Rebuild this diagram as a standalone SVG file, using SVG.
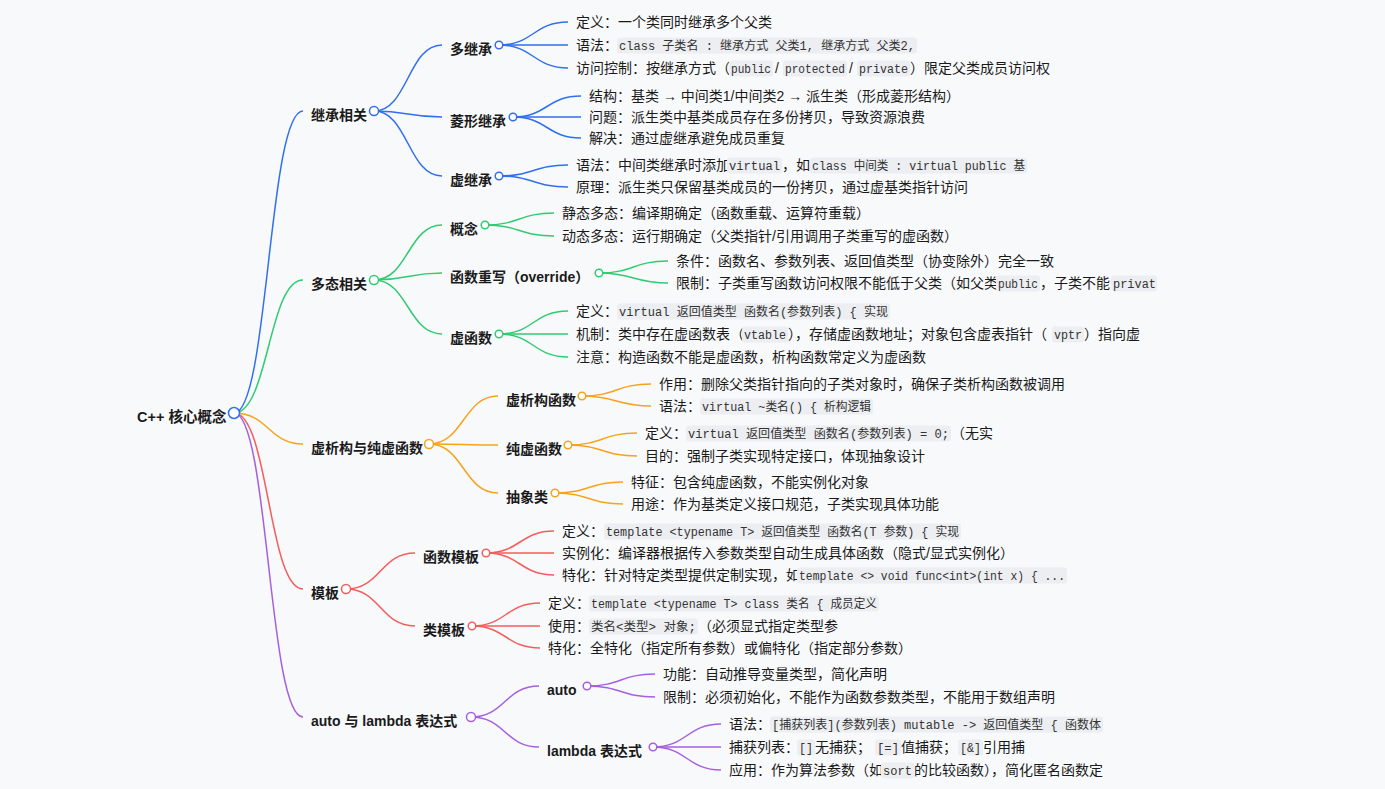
<svg xmlns="http://www.w3.org/2000/svg" width="1385" height="789" viewBox="0 0 1385 789">
<style>
.bg{fill:#f8f9fb}
.lk{fill:none;stroke-width:1.5}
.cb1{stroke:#2f6ff0}.cg{stroke:#2ecc71}.co{stroke:#f7a21b}.cr{stroke:#f55d5d}.cp{stroke:#a55fe0}
.dot{fill:#ffffff;stroke-width:1.5}
.t{font-family:"Liberation Sans","Noto Sans CJK SC",sans-serif;font-size:14px;fill:#1a1a1a}
.h{font-weight:bold}
.c{font-family:"Liberation Mono","Noto Sans CJK SC",monospace;font-size:12px;fill:#333}
.box{fill:#eceef1}
</style>
<rect class="bg" x="0" y="0" width="1385" height="789"/>

<g id="connectors">
  <!-- root to level 1 -->
  <path class="lk cb1" d="M234,413 C268.5,413 268.5,111 303,111"/>
  <path class="lk cg" d="M234,413 C268.5,413 268.5,280 303,280"/>
  <path class="lk co" d="M234,413 C268.5,413 268.5,444 303,444"/>
  <path class="lk cr" d="M234,413 C268.5,413 268.5,589 303,589"/>
  <path class="lk cp" d="M234,413 C268.5,413 268.5,717 303,717"/>
  <!-- level 1 to level 2 -->
  <path class="lk cb1" d="M374,111 C408,111 408,45 442,45"/>
  <path class="lk cb1" d="M374,111 C408,111 408,117 442,117"/>
  <path class="lk cb1" d="M374,111 C408,111 408,176 442,176"/>
  <path class="lk cg" d="M374,280 C408,280 408,225 442,225"/>
  <path class="lk cg" d="M374,280 C408,280 408,273 442,273"/>
  <path class="lk cg" d="M374,280 C408,280 408,334 442,334"/>
  <path class="lk co" d="M429,444 C463.5,444 463.5,396 498,396"/>
  <path class="lk co" d="M429,444 C463.5,444 463.5,445 498,445"/>
  <path class="lk co" d="M429,444 C463.5,444 463.5,493 498,493"/>
  <path class="lk cr" d="M346,589 C380.5,589 380.5,553 415,553"/>
  <path class="lk cr" d="M346,589 C380.5,589 380.5,626 415,626"/>
  <path class="lk cp" d="M471,717 C505,717 505,686 539,686"/>
  <path class="lk cp" d="M471,717 C505,717 505,747 539,747"/>
  <!-- level 2 to leaves -->
  <path class="lk cb1" d="M499,45 C533.5,45 533.5,22 568,22"/>
  <path class="lk cb1" d="M499,45 C533.5,45 533.5,45 568,45"/>
  <path class="lk cb1" d="M499,45 C533.5,45 533.5,68 568,68"/>
  <path class="lk cb1" d="M513,117 C547,117 547,96 581,96"/>
  <path class="lk cb1" d="M513,117 C547,117 547,117 581,117"/>
  <path class="lk cb1" d="M513,117 C547,117 547,138 581,138"/>
  <path class="lk cb1" d="M499,176 C533.5,176 533.5,165 568,165"/>
  <path class="lk cb1" d="M499,176 C533.5,176 533.5,187 568,187"/>
  <path class="lk cg" d="M485,225 C519.5,225 519.5,213 554,213"/>
  <path class="lk cg" d="M485,225 C519.5,225 519.5,236 554,236"/>
  <path class="lk cg" d="M599,273 C633.5,273 633.5,261 668,261"/>
  <path class="lk cg" d="M599,273 C633.5,273 633.5,283 668,283"/>
  <path class="lk cg" d="M499,334 C533.5,334 533.5,311 568,311"/>
  <path class="lk cg" d="M499,334 C533.5,334 533.5,334 568,334"/>
  <path class="lk cg" d="M499,334 C533.5,334 533.5,357 568,357"/>
  <path class="lk co" d="M582,396 C616.5,396 616.5,384 651,384"/>
  <path class="lk co" d="M582,396 C616.5,396 616.5,406 651,406"/>
  <path class="lk co" d="M568,445 C602.5,445 602.5,433 637,433"/>
  <path class="lk co" d="M568,445 C602.5,445 602.5,456 637,456"/>
  <path class="lk co" d="M555,493 C589,493 589,482 623,482"/>
  <path class="lk co" d="M555,493 C589,493 589,504 623,504"/>
  <path class="lk cr" d="M486,553 C520,553 520,531 554,531"/>
  <path class="lk cr" d="M486,553 C520,553 520,553 554,553"/>
  <path class="lk cr" d="M486,553 C520,553 520,575 554,575"/>
  <path class="lk cr" d="M472,626 C506,626 506,603 540,603"/>
  <path class="lk cr" d="M472,626 C506,626 506,626 540,626"/>
  <path class="lk cr" d="M472,626 C506,626 506,648 540,648"/>
  <path class="lk cp" d="M587,686 C621,686 621,674 655,674"/>
  <path class="lk cp" d="M587,686 C621,686 621,697 655,697"/>
  <path class="lk cp" d="M653,747 C687,747 687,724 721,724"/>
  <path class="lk cp" d="M653,747 C687,747 687,747 721,747"/>
  <path class="lk cp" d="M653,747 C687,747 687,770 721,770"/>
</g>

<!-- root -->
<g id="n-root">
  <text class="t h" x="137" y="422" style="font-size:14.5px">C++ 核心概念</text>
  <circle class="dot cb1" cx="234" cy="413" r="5.5"/>
</g>

<!-- ===== Branch: 继承相关 ===== -->
<g id="n-inherit">
  <text class="t h" x="311" y="120">继承相关</text>
  <circle class="dot cb1" cx="374" cy="111" r="4.5"/>
</g>
<g id="n-multi">
  <text class="t h" x="450" y="54">多继承</text>
  <circle class="dot cb1" cx="499" cy="45" r="3.8"/>
</g>
<g id="n-multi-def"><text class="t" x="576" y="27">定义：一个类同时继承多个父类</text></g>
<g id="n-multi-syn">
  <text class="t" x="576" y="50">语法：</text>
  <rect class="box" x="617" y="37.5" width="300" height="16" rx="3"/>
  <text class="c" x="619" y="49.5" textLength="296" lengthAdjust="spacingAndGlyphs">class 子类名 : 继承方式 父类1, 继承方式 父类2,</text>
</g>
<g id="n-multi-acc">
  <text class="t" x="576" y="73">访问控制：按继承方式（</text>
  <rect class="box" x="729" y="60.5" width="44" height="16" rx="3"/>
  <text class="c" x="731" y="72.5" textLength="40" lengthAdjust="spacingAndGlyphs">public</text>
  <text class="t" x="775" y="73">/</text>
  <rect class="box" x="783" y="60.5" width="64" height="16" rx="3"/>
  <text class="c" x="785" y="72.5" textLength="60" lengthAdjust="spacingAndGlyphs">protected</text>
  <text class="t" x="849" y="73">/</text>
  <rect class="box" x="857" y="60.5" width="53" height="16" rx="3"/>
  <text class="c" x="859" y="72.5" textLength="49" lengthAdjust="spacingAndGlyphs">private</text>
  <text class="t" x="910" y="73">）限定父类成员访问权</text>
</g>

<g id="n-diamond">
  <text class="t h" x="450" y="126">菱形继承</text>
  <circle class="dot cb1" cx="513" cy="117" r="3.8"/>
</g>
<g id="n-diamond-s"><text class="t" x="589" y="101">结构：基类 → 中间类1/中间类2 → 派生类（形成菱形结构）</text></g>
<g id="n-diamond-p"><text class="t" x="589" y="122">问题：派生类中基类成员存在多份拷贝，导致资源浪费</text></g>
<g id="n-diamond-r"><text class="t" x="589" y="143">解决：通过虚继承避免成员重复</text></g>

<g id="n-vinherit">
  <text class="t h" x="450" y="185">虚继承</text>
  <circle class="dot cb1" cx="499" cy="176" r="3.8"/>
</g>
<g id="n-vinherit-syn">
  <text class="t" x="576" y="170">语法：中间类继承时添加</text>
  <rect class="box" x="727" y="157.5" width="55" height="16" rx="3"/>
  <text class="c" x="729" y="169.5" textLength="51" lengthAdjust="spacingAndGlyphs">virtual</text>
  <text class="t" x="782" y="170">，如</text>
  <rect class="box" x="810" y="157.5" width="217" height="16" rx="3"/>
  <text class="c" x="812" y="169.5" textLength="213" lengthAdjust="spacingAndGlyphs">class 中间类 : virtual public 基</text>
</g>
<g id="n-vinherit-pri"><text class="t" x="576" y="192">原理：派生类只保留基类成员的一份拷贝，通过虚基类指针访问</text></g>

<!-- ===== Branch: 多态相关 ===== -->
<g id="n-poly">
  <text class="t h" x="311" y="289">多态相关</text>
  <circle class="dot cg" cx="374" cy="280" r="4.5"/>
</g>
<g id="n-concept">
  <text class="t h" x="450" y="234">概念</text>
  <circle class="dot cg" cx="485" cy="225" r="3.8"/>
</g>
<g id="n-concept-s"><text class="t" x="562" y="218">静态多态：编译期确定（函数重载、运算符重载）</text></g>
<g id="n-concept-d"><text class="t" x="562" y="241">动态多态：运行期确定（父类指针/引用调用子类重写的虚函数）</text></g>

<g id="n-override">
  <text class="t h" x="450" y="282">函数重写（override）</text>
  <circle class="dot cg" cx="599" cy="273" r="3.8"/>
</g>
<g id="n-override-c"><text class="t" x="676" y="266">条件：函数名、参数列表、返回值类型（协变除外）完全一致</text></g>
<g id="n-override-l">
  <text class="t" x="676" y="288">限制：子类重写函数访问权限不能低于父类（如父类</text>
  <rect class="box" x="996" y="275.5" width="44" height="16" rx="3"/>
  <text class="c" x="998" y="287.5" textLength="40" lengthAdjust="spacingAndGlyphs">public</text>
  <text class="t" x="1040" y="288">，子类不能</text>
  <rect class="box" x="1111" y="275.5" width="46" height="16" rx="3"/>
  <text class="c" x="1113" y="287.5" textLength="43" lengthAdjust="spacingAndGlyphs">privat</text>
</g>

<g id="n-vfunc">
  <text class="t h" x="450" y="343">虚函数</text>
  <circle class="dot cg" cx="499" cy="334" r="3.8"/>
</g>
<g id="n-vfunc-def">
  <text class="t" x="576" y="316">定义：</text>
  <rect class="box" x="617" y="303.5" width="273" height="16" rx="3"/>
  <text class="c" x="619" y="315.5" textLength="269" lengthAdjust="spacingAndGlyphs">virtual 返回值类型 函数名(参数列表) { 实现</text>
</g>
<g id="n-vfunc-mech">
  <text class="t" x="576" y="339">机制：类中存在虚函数表（</text>
  <rect class="box" x="742" y="326.5" width="46" height="16" rx="3"/>
  <text class="c" x="744" y="338.5" textLength="42" lengthAdjust="spacingAndGlyphs">vtable</text>
  <text class="t" x="788" y="339">），存储虚函数地址；对象包含虚表指针（</text>
  <rect class="box" x="1052" y="326.5" width="32" height="16" rx="3"/>
  <text class="c" x="1054" y="338.5" textLength="28" lengthAdjust="spacingAndGlyphs">vptr</text>
  <text class="t" x="1084" y="339">）指向虚</text>
</g>
<g id="n-vfunc-note"><text class="t" x="576" y="362">注意：构造函数不能是虚函数，析构函数常定义为虚函数</text></g>

<!-- ===== Branch: 虚析构与纯虚函数 ===== -->
<g id="n-vdtor-pure">
  <text class="t h" x="311" y="453">虚析构与纯虚函数</text>
  <circle class="dot co" cx="429" cy="444" r="4.5"/>
</g>
<g id="n-vdtor">
  <text class="t h" x="506" y="405">虚析构函数</text>
  <circle class="dot co" cx="582" cy="396" r="3.8"/>
</g>
<g id="n-vdtor-use"><text class="t" x="659" y="389">作用：删除父类指针指向的子类对象时，确保子类析构函数被调用</text></g>
<g id="n-vdtor-syn">
  <text class="t" x="659" y="411">语法：</text>
  <rect class="box" x="700" y="398.5" width="173" height="16" rx="3"/>
  <text class="c" x="702" y="410.5" textLength="169" lengthAdjust="spacingAndGlyphs">virtual ~类名() { 析构逻辑</text>
</g>

<g id="n-pure">
  <text class="t h" x="506" y="454">纯虚函数</text>
  <circle class="dot co" cx="568" cy="445" r="3.8"/>
</g>
<g id="n-pure-def">
  <text class="t" x="645" y="438">定义：</text>
  <rect class="box" x="686" y="425.5" width="265" height="16" rx="3"/>
  <text class="c" x="688" y="437.5" textLength="261" lengthAdjust="spacingAndGlyphs">virtual 返回值类型 函数名(参数列表) = 0;</text>
  <text class="t" x="951" y="438">（无实</text>
</g>
<g id="n-pure-goal"><text class="t" x="645" y="461">目的：强制子类实现特定接口，体现抽象设计</text></g>

<g id="n-abstract">
  <text class="t h" x="506" y="502">抽象类</text>
  <circle class="dot co" cx="555" cy="493" r="3.8"/>
</g>
<g id="n-abstract-f"><text class="t" x="631" y="487">特征：包含纯虚函数，不能实例化对象</text></g>
<g id="n-abstract-u"><text class="t" x="631" y="509">用途：作为基类定义接口规范，子类实现具体功能</text></g>

<!-- ===== Branch: 模板 ===== -->
<g id="n-template">
  <text class="t h" x="311" y="598">模板</text>
  <circle class="dot cr" cx="346" cy="589" r="4.5"/>
</g>
<g id="n-ftpl">
  <text class="t h" x="423" y="562">函数模板</text>
  <circle class="dot cr" cx="486" cy="553" r="3.8"/>
</g>
<g id="n-ftpl-def">
  <text class="t" x="562" y="536">定义：</text>
  <rect class="box" x="604" y="523.5" width="357" height="16" rx="3"/>
  <text class="c" x="606" y="535.5" textLength="353" lengthAdjust="spacingAndGlyphs">template &lt;typename T&gt; 返回值类型 函数名(T 参数) { 实现</text>
</g>
<g id="n-ftpl-inst"><text class="t" x="562" y="558">实例化：编译器根据传入参数类型自动生成具体函数（隐式/显式实例化）</text></g>
<g id="n-ftpl-spec">
  <text class="t" x="562" y="580">特化：针对特定类型提供定制实现，如</text>
  <rect class="box" x="797" y="567.5" width="270" height="16" rx="3"/>
  <text class="c" x="799" y="579.5" textLength="266" lengthAdjust="spacingAndGlyphs">template &lt;&gt; void func&lt;int&gt;(int x) { ...</text>
</g>

<g id="n-ctpl">
  <text class="t h" x="423" y="635">类模板</text>
  <circle class="dot cr" cx="472" cy="626" r="3.8"/>
</g>
<g id="n-ctpl-def">
  <text class="t" x="548" y="608">定义：</text>
  <rect class="box" x="589" y="595.5" width="290" height="16" rx="3"/>
  <text class="c" x="591" y="607.5" textLength="286" lengthAdjust="spacingAndGlyphs">template &lt;typename T&gt; class 类名 { 成员定义</text>
</g>
<g id="n-ctpl-use">
  <text class="t" x="548" y="631">使用：</text>
  <rect class="box" x="589" y="618.5" width="109" height="16" rx="3"/>
  <text class="c" x="591" y="630.5" textLength="105" lengthAdjust="spacingAndGlyphs">类名&lt;类型&gt; 对象;</text>
  <text class="t" x="698" y="631">（必须显式指定类型参</text>
</g>
<g id="n-ctpl-spec"><text class="t" x="548" y="653">特化：全特化（指定所有参数）或偏特化（指定部分参数）</text></g>

<!-- ===== Branch: auto 与 lambda 表达式 ===== -->
<g id="n-auto-lambda">
  <text class="t h" x="311" y="726">auto 与 lambda 表达式</text>
  <circle class="dot cp" cx="471" cy="717" r="4.5"/>
</g>
<g id="n-auto">
  <text class="t h" x="547" y="695">auto</text>
  <circle class="dot cp" cx="587" cy="686" r="3.8"/>
</g>
<g id="n-auto-f"><text class="t" x="663" y="679">功能：自动推导变量类型，简化声明</text></g>
<g id="n-auto-l"><text class="t" x="663" y="702">限制：必须初始化，不能作为函数参数类型，不能用于数组声明</text></g>

<g id="n-lambda">
  <text class="t h" x="547" y="756">lambda 表达式</text>
  <circle class="dot cp" cx="653" cy="747" r="3.8"/>
</g>
<g id="n-lambda-syn">
  <text class="t" x="729" y="729">语法：</text>
  <rect class="box" x="770" y="716.5" width="333" height="16" rx="3"/>
  <text class="c" x="772" y="728.5" textLength="329" lengthAdjust="spacingAndGlyphs">[捕获列表](参数列表) mutable -&gt; 返回值类型 { 函数体</text>
</g>
<g id="n-lambda-cap">
  <text class="t" x="729" y="752">捕获列表：</text>
  <rect class="box" x="797" y="739.5" width="18" height="16" rx="3"/>
  <text class="c" x="799" y="751.5" textLength="14" lengthAdjust="spacingAndGlyphs">[]</text>
  <text class="t" x="815" y="752">无捕获；</text>
  <rect class="box" x="875" y="739.5" width="26" height="16" rx="3"/>
  <text class="c" x="877" y="751.5" textLength="22" lengthAdjust="spacingAndGlyphs">[=]</text>
  <text class="t" x="901" y="752">值捕获；</text>
  <rect class="box" x="958" y="739.5" width="25" height="16" rx="3"/>
  <text class="c" x="960" y="751.5" textLength="21" lengthAdjust="spacingAndGlyphs">[&amp;]</text>
  <text class="t" x="983" y="752">引用捕</text>
</g>
<g id="n-lambda-app">
  <text class="t" x="729" y="775">应用：作为算法参数（如</text>
  <rect class="box" x="881" y="762.5" width="33" height="16" rx="3"/>
  <text class="c" x="883" y="774.5" textLength="29" lengthAdjust="spacingAndGlyphs">sort</text>
  <text class="t" x="914" y="775">的比较函数），简化匿名函数定</text>
</g>
</svg>
